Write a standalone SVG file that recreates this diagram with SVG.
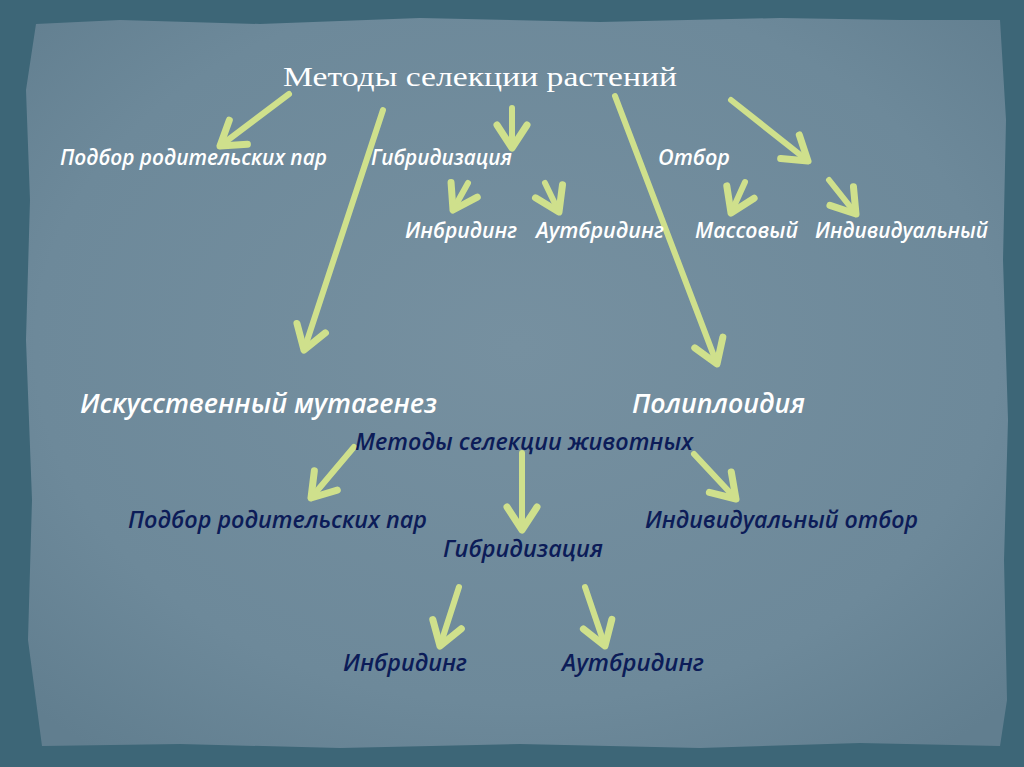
<svg xmlns="http://www.w3.org/2000/svg" width="1024" height="767" viewBox="0 0 1024 767">
<defs>
<radialGradient id="paper" cx="0.5" cy="0.45" r="0.7">
<stop offset="0" stop-color="#7690a0"/>
<stop offset="0.7" stop-color="#6d899a"/>
<stop offset="1" stop-color="#617e8f"/>
</radialGradient>
<marker id="ah" markerUnits="userSpaceOnUse" markerWidth="40" markerHeight="40" viewBox="-30 -20 34 40" refX="0" refY="0" orient="auto">
<path d="M-23,-15 L0,0 L-23,15" fill="none" stroke="#cfe08c" stroke-width="7" stroke-linecap="round" stroke-linejoin="round"/>
</marker>
<style>
.w{font-family:"Open Sans","Liberation Sans",sans-serif;font-style:italic;font-weight:600;fill:#ffffff}
.d{font-family:"Open Sans","Liberation Sans",sans-serif;font-style:italic;font-weight:600;fill:#0c1c58}
.t{font-family:"Liberation Serif","DejaVu Serif",serif;fill:#ffffff}
.a{fill:none;stroke:#cfe08c;stroke-width:6;stroke-linecap:round;marker-end:url(#ah)}
</style>
</defs>
<rect x="0" y="0" width="1024" height="767" fill="#3d6677"/>
<path d="M36,24 L120,20 L260,24 L420,18 L600,22 L780,18 L900,20 L1000,20 L1006,120 L1003,260 L1008,420 L1004,560 L1007,700 L1000,746 L860,743 L700,748 L520,744 L340,748 L180,744 L42,746 L28,640 L32,500 L26,340 L30,200 L26,90 Z" fill="url(#paper)"/>
<g id="connectors">
<line class="a" x1="289" y1="94" x2="220" y2="146"/>
<line class="a" x1="383" y1="110" x2="304" y2="350"/>
<line class="a" x1="512" y1="108" x2="512" y2="148"/>
<line class="a" x1="615" y1="96" x2="717" y2="364"/>
<line class="a" x1="731" y1="100" x2="808" y2="161"/>
<line class="a" x1="468" y1="183" x2="453" y2="210"/>
<line class="a" x1="545" y1="183" x2="559" y2="212"/>
<line class="a" x1="745" y1="182" x2="731" y2="213"/>
<line class="a" x1="829" y1="180" x2="856" y2="214"/>
<line class="a" x1="354" y1="447" x2="311" y2="498"/>
<line class="a" x1="522" y1="453" x2="522" y2="530"/>
<line class="a" x1="694" y1="454" x2="736" y2="499"/>
<line class="a" x1="459" y1="587" x2="440" y2="646"/>
<line class="a" x1="585" y1="587" x2="605" y2="646"/>
</g>
<g id="n_title"><text class="t" x="283" y="86" font-size="28" textLength="394" lengthAdjust="spacingAndGlyphs">Методы селекции растений</text></g>
<g id="n_podbor1"><text class="w" x="60" y="165" font-size="21" textLength="267" lengthAdjust="spacingAndGlyphs">Подбор родительских пар</text></g>
<g id="n_gibr1"><text class="w" x="371" y="165" font-size="21" textLength="141" lengthAdjust="spacingAndGlyphs">Гибридизация</text></g>
<g id="n_otbor"><text class="w" x="658" y="165" font-size="21" textLength="72" lengthAdjust="spacingAndGlyphs">Отбор</text></g>
<g id="n_inbr1"><text class="w" x="405" y="238" font-size="21" textLength="112" lengthAdjust="spacingAndGlyphs">Инбридинг</text></g>
<g id="n_autbr1"><text class="w" x="536" y="238" font-size="21" textLength="128" lengthAdjust="spacingAndGlyphs">Аутбридинг</text></g>
<g id="n_mass"><text class="w" x="695" y="238" font-size="21" textLength="103" lengthAdjust="spacingAndGlyphs">Массовый</text></g>
<g id="n_indiv1"><text class="w" x="815" y="238" font-size="21" textLength="173" lengthAdjust="spacingAndGlyphs">Индивидуальный</text></g>
<g id="n_mutagen"><text class="w" x="80" y="413" font-size="27" textLength="357" lengthAdjust="spacingAndGlyphs">Искусственный мутагенез</text></g>
<g id="n_poliploid"><text class="w" x="632" y="413" font-size="27" textLength="173" lengthAdjust="spacingAndGlyphs">Полиплоидия</text></g>
<g id="n_animals"><text class="d" x="355" y="450" font-size="23" textLength="338" lengthAdjust="spacingAndGlyphs">Методы селекции животных</text></g>
<g id="n_podbor2"><text class="d" x="128" y="528" font-size="24" textLength="299" lengthAdjust="spacingAndGlyphs">Подбор родительских пар</text></g>
<g id="n_indiv2"><text class="d" x="645" y="528" font-size="24" textLength="273" lengthAdjust="spacingAndGlyphs">Индивидуальный отбор</text></g>
<g id="n_gibr2"><text class="d" x="443" y="557" font-size="24" textLength="160" lengthAdjust="spacingAndGlyphs">Гибридизация</text></g>
<g id="n_inbr2"><text class="d" x="343" y="671" font-size="24" textLength="124" lengthAdjust="spacingAndGlyphs">Инбридинг</text></g>
<g id="n_autbr2"><text class="d" x="562" y="671" font-size="24" textLength="142" lengthAdjust="spacingAndGlyphs">Аутбридинг</text></g>
</svg>
